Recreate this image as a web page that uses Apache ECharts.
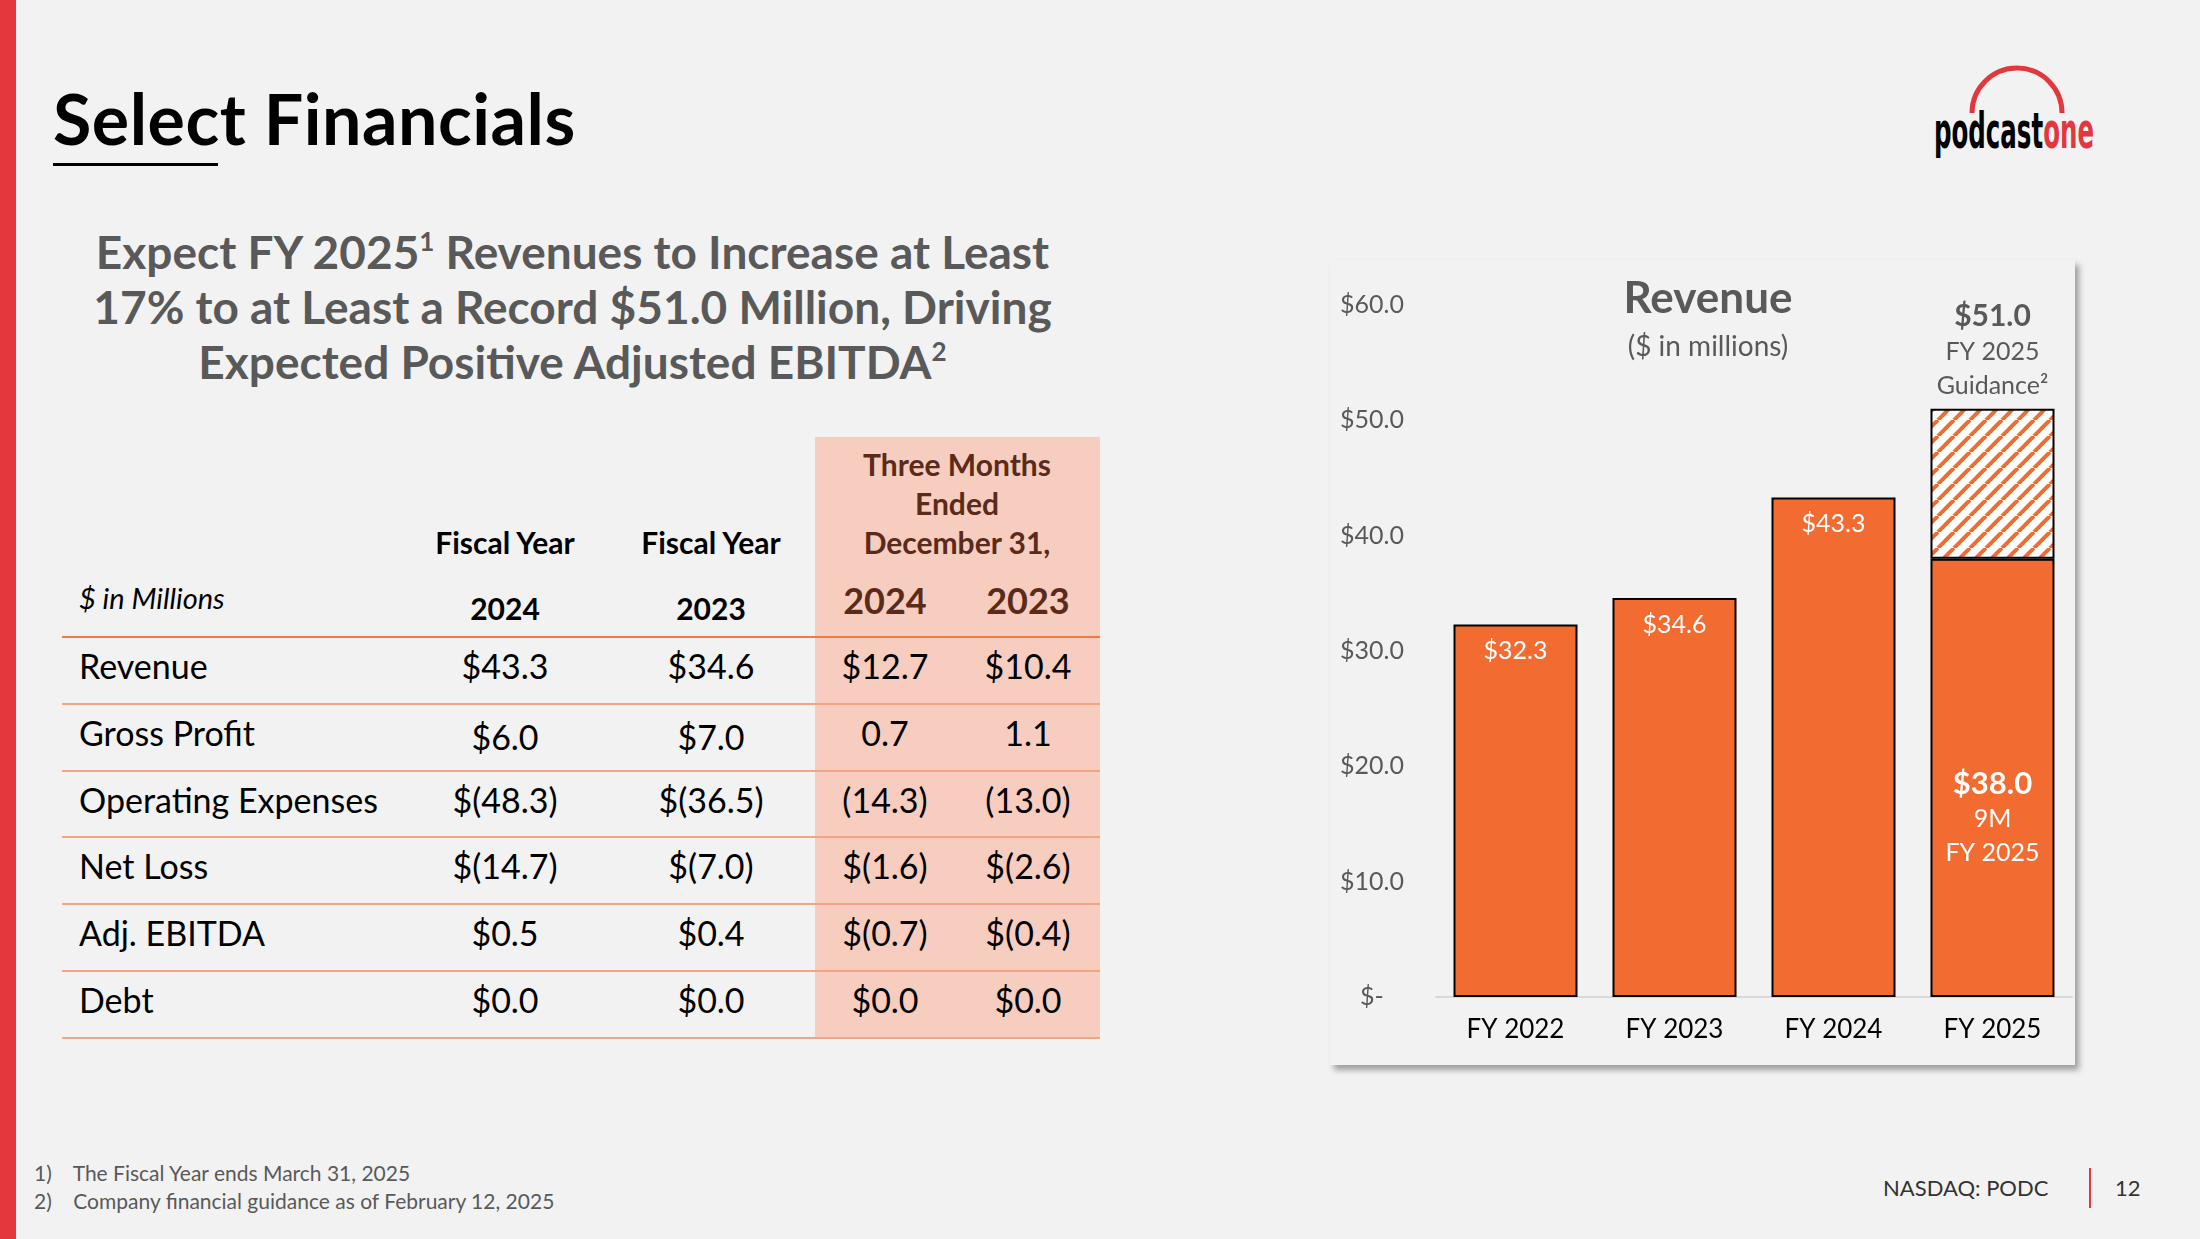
<!DOCTYPE html>
<html><head><meta charset="utf-8">
<script src="https://cdn.jsdelivr.net/npm/echarts@6/dist/echarts.min.js"></script>
<style>
body{margin:0;width:2200px;height:1239px;background:#f2f2f2;font-family:Lato,"Open Sans",sans-serif;position:relative;overflow:hidden}
.abs{position:absolute}
#redbar{left:0;top:0;width:16px;height:1239px;background:#e2383d}
#title{left:53px;top:76px;font-size:70px;font-weight:bold;color:#000;letter-spacing:0.5px}
#uline{left:53px;top:163px;width:165px;height:3px;background:#000}
#sub{left:40px;top:224px;width:1065px;text-align:center;font-size:46px;font-weight:bold;color:#595959;line-height:55px}
#sub sup{font-size:26px;line-height:0;vertical-align:18px}
#pink{left:815px;top:437px;width:285px;height:601px;background:#f6cdbf}
.cell{position:absolute;transform:translateX(-50%);white-space:nowrap;font-size:34px;color:#000}
.lbl{position:absolute;left:79px;font-size:34px;color:#000}
.line{position:absolute;left:62px;width:1038px;height:1.5px;background:#f2a585}
.hd{position:absolute;transform:translateX(-50%);font-weight:bold;font-size:30px;white-space:nowrap;text-align:center}
#chartbox{left:1330px;top:260px;width:745px;height:805px;background:#f2f2f2;box-shadow:4px 5px 6px rgba(0,0,0,0.35)}
#chart{left:1330px;top:260px;width:745px;height:805px}
.foot{font-size:21px;color:#595959}
</style></head><body>
<div class="abs" id="redbar"></div>
<div class="abs" id="title">Select Financials</div>
<div class="abs" id="uline"></div>
<div class="abs" id="sub">Expect FY 2025<sup>1</sup> Revenues to Increase at Least<br>17% to at Least a Record $51.0 Million, Driving<br>Expected Positive Adjusted EBITDA<sup>2</sup></div>
<div class="abs" id="pink"></div>
<div id="table"></div>
<div class="abs" id="chartbox"></div>
<div class="abs" id="chart"></div>
<svg class="abs" style="left:1930px;top:58px" width="200" height="100">
<path d="M42 55 A45 45 0 0 1 132 55" fill="none" stroke="#e2383d" stroke-width="5"/>
<text x="4" y="90" font-family="Liberation Sans Narrow, DejaVu Sans Condensed, sans-serif" font-weight="bold" font-size="50" textLength="160" lengthAdjust="spacingAndGlyphs"><tspan fill="#000">podcast</tspan><tspan fill="#e2383d">one</tspan></text>
</svg>
<div class="abs foot" style="left:34px;top:1160px">1)&nbsp;&nbsp;&nbsp;&nbsp;The Fiscal Year ends March 31, 2025</div>
<div class="abs foot" style="left:34px;top:1188px">2)&nbsp;&nbsp;&nbsp;&nbsp;Company financial guidance as of February 12, 2025</div>
<div class="abs" style="left:1883px;top:1174px;font-size:22px;color:#333">NASDAQ: PODC</div>
<div class="abs" style="left:2089px;top:1168px;width:2px;height:40px;background:#e2383d"></div>
<div class="abs" style="left:2115px;top:1174px;font-size:22px;color:#333">12</div>
<script>
// ---- table data ----
const rowLabels = ["Revenue","Gross Profit","Operating Expenses","Net Loss","Adj. EBITDA","Debt"];
const fy2024 = ["$43.3","$6.0","$(48.3)","$(14.7)","$0.5","$0.0"];
const fy2023 = ["$34.6","$7.0","$(36.5)","$(7.0)","$0.4","$0.0"];
const q2024 = ["$12.7","0.7","(14.3)","$(1.6)","$(0.7)","$0.0"];
const q2023 = ["$10.4","1.1","(13.0)","$(2.6)","$(0.4)","$0.0"];
// ---- chart data ----
const categories = ["FY 2022","FY 2023","FY 2024","FY 2025"];
const actualRevenue = [32.3,34.6,43.3,38.0];
const guidanceIncrement = [null,null,null,13.0];
const guidanceTotal = 51.0;

const t = document.getElementById('table');
let h = '';
const colX = [505,711,885,1028];
const rowY = [645,712,779,845,912,979];
rowLabels.forEach((l,i)=>{
  h += `<div class="lbl" style="top:${rowY[i]}px">${l}</div>`;
  [fy2024,fy2023,q2024,q2023].forEach((arr,j)=>{
    h += `<div class="cell" style="left:${colX[j]}px;top:${rowY[i]+(j<2&&i==1?4:0)}px">${arr[i]}</div>`;
  });
});
[636,703,770,836,903,970,1037].forEach((y,i)=>{
  h += `<div class="line" style="top:${y}px;${i==0?'background:#ee7a45;height:2px':''}"></div>`;
});
h += `<div class="hd" style="left:505px;top:524px">Fiscal Year</div>`;
h += `<div class="hd" style="left:711px;top:524px">Fiscal Year</div>`;
h += `<div class="hd" style="left:505px;top:590px">2024</div>`;
h += `<div class="hd" style="left:711px;top:590px">2023</div>`;
h += `<div class="hd" style="left:957px;top:445px;color:#5a2a1a;line-height:39px">Three Months<br>Ended<br>December 31,</div>`;
h += `<div class="hd" style="left:885px;top:578px;color:#5a2a1a;font-size:36px">2024</div>`;
h += `<div class="hd" style="left:1028px;top:578px;color:#5a2a1a;font-size:36px">2023</div>`;
h += `<div class="abs" style="left:79px;top:580px;font-style:italic;font-size:29px">$ in Millions</div>`;
t.innerHTML = h;

// hatch pattern
const pc = document.createElement('canvas');
pc.width = 16; pc.height = 16;
const g = pc.getContext('2d');
g.fillStyle = '#ffffff'; g.fillRect(0,0,16,16);
g.strokeStyle = '#f26b30'; g.lineWidth = 4;
for (let k=-16;k<=32;k+=16){ g.beginPath(); g.moveTo(k,16); g.lineTo(k+16,0); g.stroke(); }

const chart = echarts.init(document.getElementById('chart'));
const lastIdx = categories.length-1;
chart.setOption({
  animation:false,
  backgroundColor:'transparent',
  title:{text:'Revenue',subtext:'($ in millions)',left:373,top:12,textAlign:'center',
    textStyle:{fontFamily:'Lato',fontSize:44,fontWeight:'bold',color:'#595959'},
    subtextStyle:{fontFamily:'Lato',fontSize:28,color:'#595959'},itemGap:12},
  grid:{left:106,right:3,top:45,bottom:68},
  xAxis:{type:'category',data:categories,axisTick:{show:false},
    axisLine:{lineStyle:{color:'#d9d9d9',width:2}},
    axisLabel:{fontFamily:'Lato',fontSize:26,color:'#000',margin:20}},
  yAxis:{type:'value',min:0,max:60,interval:10,splitLine:{show:false},
    axisLabel:{fontFamily:'Lato',fontSize:25,color:'#595959',margin:64,align:'center',
      formatter:v=>v===0?'$-':'$'+v.toFixed(1)}},
  series:[
    {type:'bar',stack:'r',barWidth:124,data:actualRevenue.map((v,i)=>{
        const d={value:v};
        if(i===lastIdx){ d.label={position:'inside',offset:[0,40],
          formatter:'{b|$'+v.toFixed(1)+'}\n9M\nFY 2025',lineHeight:34,
          rich:{b:{fontSize:31,fontWeight:'bold',color:'#fff',fontFamily:'Lato',lineHeight:36}}}; }
        return d;}),
      itemStyle:{color:'#f26b30',borderColor:'#000',borderWidth:2},
      label:{show:true,position:'insideTop',distance:14,color:'#fff',fontSize:25,fontFamily:'Lato',
        formatter:p=>'$'+p.value.toFixed(1)}},
    {type:'bar',stack:'r',barWidth:124,data:guidanceIncrement,
      itemStyle:{color:{image:pc,repeat:'repeat'},borderColor:'#000',borderWidth:2},
      label:{show:true,position:'top',distance:6,align:'center',color:'#595959',fontFamily:'Lato',fontSize:25,lineHeight:34,
        formatter:'{b|$'+guidanceTotal.toFixed(1)+'}\nFY 2025\nGuidance²',
        rich:{b:{fontSize:30,fontWeight:'bold',color:'#595959',fontFamily:'Lato',lineHeight:36}}}}
  ]
});
</script>
</body></html>
